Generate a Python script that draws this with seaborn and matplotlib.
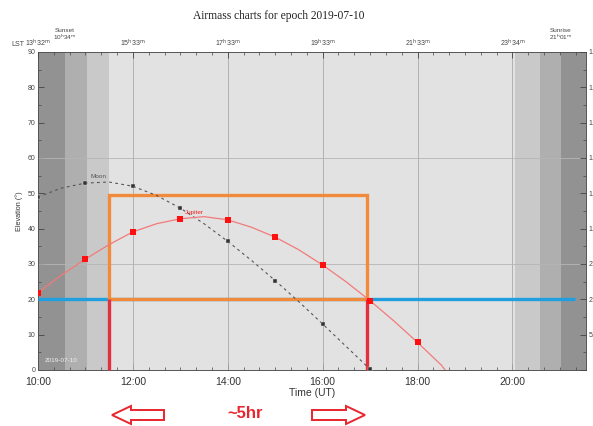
import matplotlib
matplotlib.use("Agg")
import matplotlib.pyplot as plt
import numpy as np
import pandas as pd
import seaborn as sns
from matplotlib.patches import Rectangle, Polygon
from matplotlib.ticker import FixedLocator, MultipleLocator

# ---- data -------------------------------------------------------------
# Time axis in decimal hours (UT)
jupiter_time = [10.0, 10.5, 11.0, 11.5, 12.0, 12.5, 13.0, 13.5, 14.0, 14.5,
                15.0, 15.5, 16.0, 16.5, 17.0, 17.5, 18.0, 18.5, 18.58]
jupiter_elev = [21.9, 26.9, 31.4, 35.5, 39.1, 41.4, 42.8, 43.4, 42.5, 40.4,
                37.6, 34.0, 29.7, 24.9, 19.6, 13.9, 7.8, 1.4, 0.0]

moon_time = [10.0, 10.5, 11.0, 11.5, 12.0, 12.5, 13.0, 13.5, 14.0, 14.5,
             15.0, 15.5, 16.0, 16.5, 17.0]
moon_elev = [49.0, 51.5, 52.9, 53.2, 52.0, 49.4, 45.8, 41.4, 36.4, 31.0,
             25.3, 19.3, 13.0, 6.6, 0.2]

# Twilight band edges (UT hours): day | civil | nautical | astronomical
dusk_edges = [10.0, 10.57, 11.03, 11.5]
dawn_edges = [20.05, 20.57, 21.02, 21.55]
band_colors = ["#c9c9c9", "#afafaf", "#929292"]  # astro, nautical, civil->day

ut_ticks = [10, 12, 14, 16, 18, 20]
ut_labels = ["10:00", "12:00", "14:00", "16:00", "18:00", "20:00"]
lst_ticks = [10, 12, 14, 16, 18, 20]
lst_labels = ["13h32m", "15h33m", "17h33m", "19h33m", "21h33m", "23h34m"]
elev_ticks = [0, 10, 20, 30, 40, 50, 60, 70, 80, 90]
airmass_labels = ["", "5.76", "2.92", "2.00", "1.56", "1.31", "1.15", "1.06", "1.02", "1.00"]

# Observing window annotations
min_elev = 20
window_start, window_end = 11.5, 16.93
window_top = 49.5
horizon_line_end = 21.31
sunset_time, sunset_label = 10.57, "10h34m"
sunrise_time, sunrise_label = 21.02, "21h01m"


def hm(s):
    h, m = s.rstrip("m").split("h")
    return h + r"$^{\mathrm{h}}$" + m + r"$^{\mathrm{m}}$"


jup = pd.DataFrame({"time": jupiter_time, "elev": jupiter_elev})
moon = pd.DataFrame({"time": moon_time, "elev": moon_elev})

sns.set_theme(style="ticks")
plt.rcParams["font.family"] = ["Liberation Sans", "DejaVu Sans"]
plt.rcParams["mathtext.default"] = "regular"

W, H = 593, 426
fig = plt.figure(figsize=(W / 100, H / 100), dpi=100)
ax = fig.add_axes([38 / W, 1 - 370 / H, (586 - 38) / W, (370 - 52) / H])
ax.set_facecolor("#e2e2e2")

x0, x1 = 10.0, 21.55
ax.set_xlim(x0, x1)
ax.set_ylim(0, 90)

# twilight shading
for i in range(3):
    ax.axvspan(dusk_edges[i], dusk_edges[i + 1], color=band_colors[2 - i], lw=0, zorder=0)
    ax.axvspan(dawn_edges[i], dawn_edges[i + 1], color=band_colors[i], lw=0, zorder=0)

# grid
for t in ut_ticks[1:]:
    ax.axvline(t, color="#a9a9a9", lw=0.6, zorder=1)
for e in [30, 60]:
    ax.axhline(e, color="#b5b5b5", lw=0.6, zorder=1)

# minimum elevation line and observing window
ax.plot([x0, horizon_line_end], [min_elev, min_elev], color="#1f9fe0", lw=2.4,
        solid_capstyle="butt", zorder=3)
ax.add_patch(Rectangle((window_start, min_elev), window_end - window_start,
                       window_top - min_elev, fill=False, ec="#f28a3c", lw=2.4, zorder=4))
for t in [window_start, window_end]:
    ax.plot([t, t], [0, min_elev], color="#e2303f", lw=2.4, solid_capstyle="butt",
            zorder=5, clip_on=False)

# target tracks
sns.lineplot(data=moon, x="time", y="elev", ax=ax, color="#555555", lw=0.8,
             linestyle=(0, (2.5, 3)), zorder=6)
sns.scatterplot(data=moon[moon["time"] % 1 == 0], x="time", y="elev", ax=ax,
                marker="s", s=7, color="#333333", edgecolor="#dddddd", lw=0.3, zorder=7)
sns.lineplot(data=jup, x="time", y="elev", ax=ax, color="#f27a7a", lw=0.9, zorder=6)
sns.scatterplot(data=jup[jup["time"] % 1 == 0], x="time", y="elev", ax=ax,
                marker="s", s=16, color="#ff1010", lw=0, zorder=7)

ax.text(11.1, 54.0, "Moon", fontsize=4.6, color="#555555", ha="left", va="bottom", zorder=8)
ax.text(13.1, 44.0, "Jupiter", fontsize=4.6, color="#ee2222", ha="left", va="bottom", zorder=8)
ax.text(10.15, 2.0, "2019-07-10", fontsize=4.6, color="#f2f2f2", ha="left", va="bottom", zorder=8)

# axes formatting
ax.set_xticks(ut_ticks)
ax.set_xticklabels(ut_labels)
ax.xaxis.set_minor_locator(MultipleLocator(1 / 3))
ax.set_yticks(elev_ticks)
ax.yaxis.set_minor_locator(MultipleLocator(5))
ax.tick_params(axis="x", which="major", direction="in", length=4, width=0.6,
               labelsize=7.5, labelcolor="#333333", pad=5, color="#444444")
ax.tick_params(axis="y", which="major", direction="in", length=4, width=0.6,
               labelsize=5, labelcolor="#444444", pad=2, color="#444444")
ax.tick_params(which="minor", direction="in", length=2, width=0.5, color="#444444")
ax.set_xlabel("Time (UT)", fontsize=7.5, color="#333333", labelpad=1)
ax.set_ylabel("Elevation (°)", fontsize=5.2, color="#333333", labelpad=3)
for s in ax.spines.values():
    s.set_color("#555555")
    s.set_linewidth(0.7)

# top axis: local sidereal time
axt = ax.twiny()
axt.set_xlim(x0, x1)
axt.set_xticks(lst_ticks)
axt.set_xticklabels([hm(s) for s in lst_labels])
axt.xaxis.set_minor_locator(MultipleLocator(1 / 3))
axt.tick_params(axis="x", which="major", direction="in", length=4, width=0.6,
                labelsize=5, labelcolor="#444444", pad=2, color="#444444")
axt.tick_params(axis="x", which="minor", direction="in", length=2, width=0.5, color="#444444")
axt.grid(False)
for s in axt.spines.values():
    s.set_visible(False)

# right axis: airmass
axr = ax.twinx()
axr.set_ylim(0, 90)
axr.set_yticks(elev_ticks)
axr.set_yticklabels(airmass_labels)
axr.yaxis.set_minor_locator(MultipleLocator(5))
axr.tick_params(axis="y", which="major", direction="in", length=4, width=0.6,
                labelsize=5, labelcolor="#444444", pad=2, color="#444444")
axr.tick_params(axis="y", which="minor", direction="in", length=2, width=0.5, color="#444444")
axr.grid(False)
for s in axr.spines.values():
    s.set_visible(False)

# header texts
fig.text(24 / W, 1 - 45 / H, "LST", fontsize=5, color="#444444", ha="right", va="center")
for t, lab, name in [(sunset_time, sunset_label, "Sunset"), (sunrise_time, sunrise_label, "Sunrise")]:
    xf = (38 + (t - x0) / (x1 - x0) * (586 - 38)) / W
    fig.text(xf, 1 - 35 / H, name + "\n" + hm(lab), fontsize=4.6, color="#444444",
             ha="center", va="center", linespacing=0.9)

fig.text(279 / W, 1 - 16 / H, "Airmass charts for epoch 2019-07-10",
         fontsize=8.3, family=["Liberation Serif", "DejaVu Serif"], color="#222222",
         ha="center", va="center")

# duration annotation with hollow arrows
def arrow(tip_x, tail_x, yc):
    d = 1 if tail_x > tip_x else -1
    head = 19
    pts = [(tip_x, yc), (tip_x + d * head, yc - 9), (tip_x + d * head, yc - 5),
           (tail_x, yc - 5), (tail_x, yc + 5), (tip_x + d * head, yc + 5),
           (tip_x + d * head, yc + 9)]
    pts = [(px / W, 1 - py / H) for px, py in pts]
    fig.add_artist(Polygon(pts, closed=True, fc="white", ec="#e8262e", lw=1.4,
                           transform=fig.transFigure))

arrow(112, 164, 415)
arrow(365, 312, 415)
fig.text(245 / W, 1 - 414 / H, "~5hr", fontsize=12, fontweight="bold",
         color="#e8262e", ha="center", va="center")

fig.savefig("out.png", dpi=100)
